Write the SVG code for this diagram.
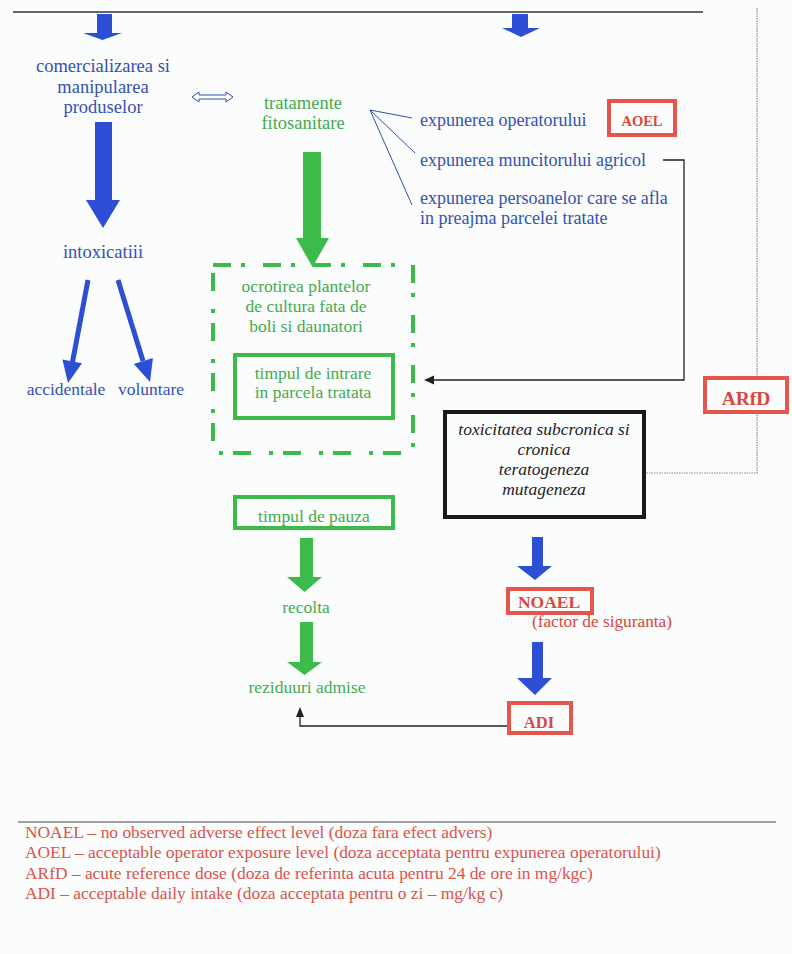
<svg xmlns="http://www.w3.org/2000/svg" width="792" height="954" viewBox="0 0 792 954">
<defs>
<style>
.t{font-family:"Liberation Serif","Times New Roman",serif;}
.blue{fill:#3451b2;}
.green{fill:#44ab50;}
.red{fill:#d9483e;}
.bold{font-weight:bold;}
.ba{fill:#2c4fd6;}
.ga{fill:#3cba4a;}
.rbox{fill:none;stroke:#e4574c;stroke-width:4;}
.gbox{fill:none;stroke:#3cba4a;stroke-width:4;}
.thin{fill:none;stroke:#222;stroke-width:1.3;}
.dot{fill:none;stroke:#888;stroke-width:1.2;stroke-dasharray:1.5 1;}
</style>
</defs>
<rect x="0" y="0" width="792" height="954" fill="#fbfcfc"/>
<line x1="13" y1="12" x2="703" y2="12" stroke="#333" stroke-width="1.5"/>

<g id="connectors">
  <polygon class="ba" points="97,14 112,14 112,33 122,33 102.5,40 83,33 97,33"/>
  <polygon class="ba" points="512,14 528,14 528,28 540,28 521,37 502,28 512,28"/>
  <polygon class="ba" points="95,122 112,122 112,200 120,200 103,228 86,200 95,200"/>
  <polygon points="192,97 199,92 199,95 226,95 226,92 233,97 226,102 226,99 199,99 199,102" fill="#fff" stroke="#3451b2" stroke-width="1"/>
  <line x1="88" y1="280" x2="72.5" y2="362" stroke="#2c4fd6" stroke-width="5"/>
  <polygon class="ba" points="68,383 62.4,359.5 82,363.3"/>
  <line x1="118" y1="280" x2="143" y2="361" stroke="#2c4fd6" stroke-width="5"/>
  <polygon class="ba" points="150,382 133.9,364 152.9,358"/>
  <polygon class="ga" points="303,152 321,152 321,238 329,238 312.5,267 296,238 303,238"/>
  <polygon class="ga" points="300,538 313,538 313,577 322,577 304.5,592 287,577 300,577"/>
  <polygon class="ga" points="300,622 313,622 313,662 322,662 304.5,675 287,662 300,662"/>
  <g stroke="#3451b2" stroke-width="1" fill="none">
    <line x1="370" y1="110" x2="412" y2="118"/>
    <line x1="370" y1="110" x2="415" y2="153"/>
    <line x1="370" y1="110" x2="412" y2="205"/>
  </g>
  <path class="thin" d="M663,160 H684 V380 H432"/>
  <polygon points="424,380 434,375.5 434,384.5" fill="#222"/>
  <path class="dot" d="M757,8 V377"/>
  <path class="dot" d="M757,412 V473 H645"/>
  <polygon class="ba" points="532,537 543,537 543,566 552,566 535,580 517,566 532,566"/>
  <polygon class="ba" points="532,642 543,642 543,678 552,678 535,695 517,678 532,678"/>
  <path class="thin" d="M508,726 H300 V716"/>
  <polygon points="300,707 296,717 304,717" fill="#222"/>
</g>

<g id="n-comercializare" class="t blue" font-size="18.5" text-anchor="middle">
  <text x="103" y="72">comercializarea si</text>
  <text x="103" y="93">manipularea</text>
  <text x="103" y="113">produselor</text>
</g>
<g id="n-intoxicatii" class="t blue" font-size="18.5" text-anchor="middle">
  <text x="103" y="258">intoxicatiii</text>
</g>
<g id="n-accidentale" class="t blue" font-size="17.5" text-anchor="middle">
  <text x="66" y="395">accidentale</text>
</g>
<g id="n-voluntare" class="t blue" font-size="17.5" text-anchor="middle">
  <text x="151" y="395">voluntare</text>
</g>
<g id="n-tratamente" class="t green" font-size="18.5" text-anchor="middle">
  <text x="303" y="109">tratamente</text>
  <text x="303" y="129">fitosanitare</text>
</g>
<g id="n-expunerea" class="t blue" font-size="18">
  <text x="420" y="126">expunerea operatorului</text>
  <text x="420" y="166">expunerea muncitorului agricol</text>
  <text x="420" y="204">expunerea persoanelor care se afla</text>
  <text x="420" y="224">in preajma parcelei tratate</text>
</g>
<g id="n-aoel">
  <rect class="rbox" x="609" y="101" width="66" height="34"/>
  <text class="t red bold" x="642" y="126" font-size="14.5" text-anchor="middle">AOEL</text>
</g>
<g id="n-ocrotirea">
  <rect x="213" y="265" width="200" height="188" fill="none" stroke="#3cba4a" stroke-width="4" stroke-dasharray="18 10 4 18"/>
  <g class="t green" font-size="17.5" text-anchor="middle">
    <text x="306" y="292">ocrotirea plantelor</text>
    <text x="306" y="312">de cultura fata de</text>
    <text x="306" y="332">boli si daunatori</text>
  </g>
</g>
<g id="n-intrare">
  <rect class="gbox" x="235" y="355" width="158" height="63"/>
  <g class="t green" font-size="17.5" text-anchor="middle">
    <text x="313" y="379">timpul de intrare</text>
    <text x="313" y="398">in parcela tratata</text>
  </g>
</g>
<g id="n-pauza">
  <text class="t green" x="314" y="522" font-size="17.5" text-anchor="middle">timpul de pauza</text>
  <rect x="233" y="527" width="162" height="6" fill="#fbfcfc"/>
  <rect class="gbox" x="235" y="497" width="158" height="31"/>
</g>
<g id="n-recolta" class="t green" font-size="17.5" text-anchor="middle">
  <text x="306" y="613">recolta</text>
</g>
<g id="n-reziduuri" class="t green" font-size="17.5" text-anchor="middle">
  <text x="307" y="693">reziduuri admise</text>
</g>
<g id="n-arfd">
  <rect class="rbox" x="705" y="378" width="82" height="34"/>
  <text class="t red bold" x="746" y="405" font-size="19.5" text-anchor="middle">ARfD</text>
</g>
<g id="n-toxicitate">
  <rect x="445" y="412" width="199" height="105" fill="none" stroke="#1a1a1a" stroke-width="4"/>
  <g class="t" font-size="17.5" font-style="italic" fill="#222" text-anchor="middle">
    <text x="544" y="435">toxicitatea subcronica si</text>
    <text x="544" y="455">cronica</text>
    <text x="544" y="475">teratogeneza</text>
    <text x="544" y="495">mutageneza</text>
  </g>
</g>
<g id="n-noael">
  <rect class="rbox" x="508" y="589" width="84" height="24"/>
  <text class="t red bold" x="549" y="608" font-size="17.5" text-anchor="middle">NOAEL</text>
  <text class="t red" x="602" y="627" font-size="17.3" text-anchor="middle">(factor de siguranta)</text>
</g>
<g id="n-adi">
  <rect class="rbox" x="509" y="703" width="62" height="30"/>
  <text class="t red bold" x="539" y="728" font-size="16.5" text-anchor="middle">ADI</text>
</g>

<g id="legend">
  <line x1="18" y1="822" x2="776" y2="822" stroke="#444" stroke-width="1.2"/>
  <g class="t" font-size="17.4" fill="#d9544c">
    <text x="25" y="838">NOAEL – no observed adverse effect level (doza fara efect advers)</text>
    <text x="25" y="858">AOEL – acceptable operator exposure level (doza acceptata pentru expunerea operatorului)</text>
    <text x="25" y="879">ARfD – acute reference dose (doza de referinta acuta pentru 24 de ore in mg/kgc)</text>
    <text x="25" y="899">ADI – acceptable daily intake (doza acceptata pentru o zi – mg/kg c)</text>
  </g>
</g>
</svg>
